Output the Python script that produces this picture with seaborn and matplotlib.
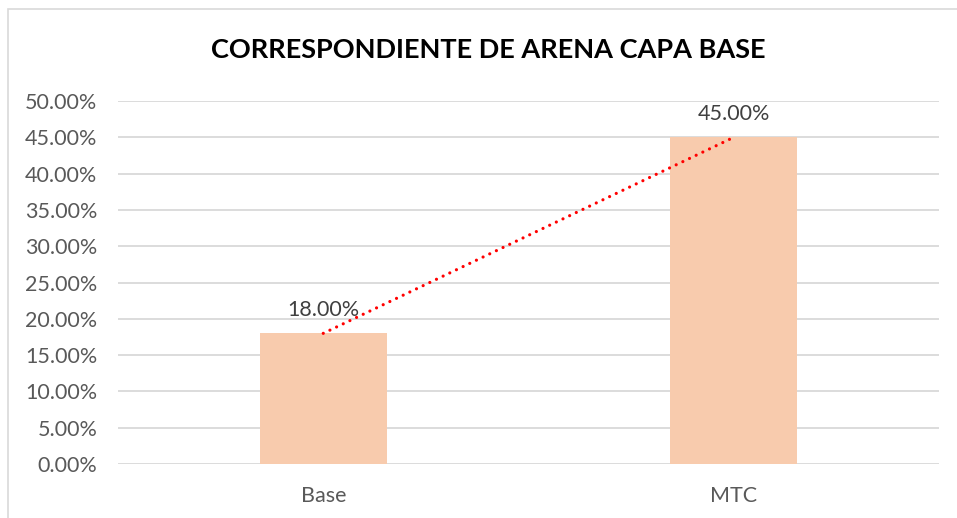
import matplotlib
matplotlib.use('Agg')
import matplotlib.pyplot as plt
import seaborn as sns
import pandas as pd
from matplotlib.patches import Rectangle
from matplotlib.ticker import FuncFormatter, MultipleLocator

categories = ['Base', 'MTC']
values = [0.18, 0.45]
title = 'CORRESPONDIENTE DE ARENA CAPA BASE'

sns.set_theme(style='white')
plt.rcParams['font.family'] = ['Lato', 'DejaVu Sans']

df = pd.DataFrame({'cat': categories, 'val': values})

fig = plt.figure(figsize=(9.57, 5.18), dpi=100)
ax = fig.add_axes([0.1233, 0.1042, 0.8579, 0.7008])

# chart frame (only top/left edge visible in the crop)
fig.patches.append(Rectangle((8 / 957, -0.1), 1.1, 1 - 9 / 518 + 0.1, transform=fig.transFigure,
                             fill=False, edgecolor='#d9d9d9', linewidth=1.2))

sns.barplot(data=df, x='cat', y='val', color='#f8cbad', width=0.31, saturation=1,
            linewidth=0, ax=ax, zorder=2)

# trendline connecting the bar tops
ax.plot(range(len(values)), values, color='#ff0000', linestyle=(0, (0.01, 2.3)), linewidth=2.3,
        dash_capstyle='round', zorder=3)

for i, v in enumerate(values):
    ax.text(i, v + 0.018, f'{v * 100:.2f}%', ha='center', va='bottom', fontsize=15.5, color='#404040')

ax.set_ylim(0, 0.5)
ax.set_xlim(-0.5, 1.5)
ax.yaxis.set_major_locator(MultipleLocator(0.05))
ax.yaxis.set_major_formatter(FuncFormatter(lambda y, _: f'{y * 100:.2f}%'))
ax.grid(axis='y', color='#d9d9d9', linewidth=1.3, zorder=0)
ax.set_axisbelow(True)
for s in ax.spines.values():
    s.set_visible(False)
ax.tick_params(axis='both', length=0, labelsize=15.5, labelcolor='#595959', pad=15)
ax.tick_params(axis='x', pad=16)
ax.set_xlabel('')
ax.set_ylabel('')

fig.text(0.51, 0.903, title, ha='center', va='center', fontsize=19.5, fontweight='bold', color='black')

fig.savefig('out.png', dpi=100)
